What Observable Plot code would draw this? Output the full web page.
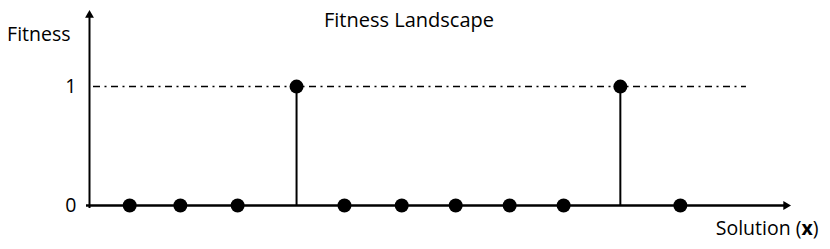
<!DOCTYPE html>
<html>
<head>
<meta charset="utf-8">
<script src="https://cdn.jsdelivr.net/npm/d3@7"></script>
<script src="https://cdn.jsdelivr.net/npm/@observablehq/plot@0.6"></script>
<style>
  html, body { margin: 0; padding: 0; background: #fff; }
  #chart svg { display: block; }
</style>
</head>
<body>
<div id="chart"></div>
<script>
// Data
const solutions = [1, 1.92, 2.96, 4.03, 4.9, 5.94, 6.92, 7.9, 8.88, 9.91, 11];
const fitness   = [0, 0, 0, 1, 0, 0, 0, 0, 0, 1, 0];
const yTicks = [0, 1];
const optimum = 1;
const xAxisStart = 0.27, xAxisEnd = 13, dashEnd = 12.2;
const yAxisEnd = 1.64;
const title = "Fitness Landscape";
const yLabel = "Fitness";
const xLabel = "Solution (x)";

const data = solutions.map((x, i) => ({x, f: fitness[i]}));
const font = "'Open Sans', Lato, sans-serif";

const chart = Plot.plot({
  width: 830,
  height: 249,
  marginLeft: 89,
  marginRight: 40,
  marginTop: 10,
  marginBottom: 44,
  style: {fontFamily: font, color: "#000", background: "#fff"},
  x: {domain: [xAxisStart, xAxisEnd], axis: null},
  y: {domain: [0, yAxisEnd], axis: null},
  marks: [
    Plot.ruleY([optimum], {x1: xAxisStart, x2: dashEnd, stroke: "#000", strokeWidth: 1.5, strokeDasharray: "7,4.5,2,4.5", strokeDashoffset: -4}),
    Plot.ruleX(data.filter(d => d.f > 0), {x: "x", y1: 0, y2: "f", stroke: "#000", strokeWidth: 2}),
    Plot.ruleY([0], {x1: xAxisStart, x2: xAxisEnd, stroke: "#000", strokeWidth: 2.5, dx: -3}),
    Plot.ruleX([xAxisStart], {y1: 0, y2: yAxisEnd, stroke: "#000", strokeWidth: 2, dy: 3}),
    Plot.dot([{x: xAxisStart, y: yAxisEnd}], {x: "x", y: "y", symbol: "triangle", r: 3.3, fill: "#000", stroke: null, dy: 4.6}),
    Plot.dot([{x: xAxisEnd, y: 0}], {x: "x", y: "y", symbol: "triangle", rotate: 90, r: 3.3, fill: "#000", stroke: null, dx: -4.6}),
    Plot.dot(data, {x: "x", y: "f", r: 7, fill: "#000", stroke: null}),
    Plot.axisY(yTicks, {tickSize: 0, tickPadding: 13, fontSize: 19.5, label: null, tickFormat: d => String(d)}),
    Plot.text([title], {frameAnchor: "top", dx: -31, dy: 10, fontSize: 20, lineAnchor: "middle"}),
    Plot.text([yLabel], {frameAnchor: "top-left", dx: -19, dy: 24, textAnchor: "end", fontSize: 19.5, lineAnchor: "middle"}),
    Plot.text([xLabel], {frameAnchor: "bottom-right", dx: 28, dy: 23, textAnchor: "end", fontSize: 19.5, lineAnchor: "middle"})
  ]
});

// Bold "x" inside the x-axis label
d3.select(chart).selectAll("text").filter(function() { return this.textContent === xLabel; })
  .each(function() {
    const t = d3.select(this);
    t.text(null);
    t.append("tspan").text("Solution (");
    t.append("tspan").attr("font-weight", "bold").text("x");
    t.append("tspan").text(")");
  });

document.getElementById("chart").appendChild(chart);
</script>
</body>
</html>
